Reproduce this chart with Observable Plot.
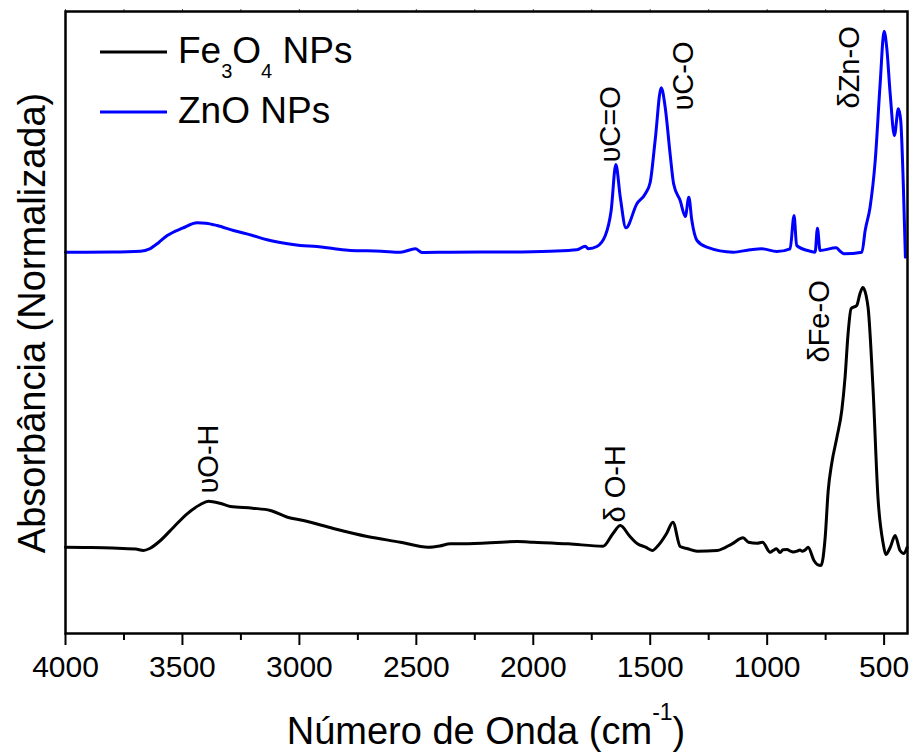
<!DOCTYPE html>
<html><head><meta charset="utf-8">
<script src="https://cdn.jsdelivr.net/npm/d3@7"></script>
<script src="https://cdn.jsdelivr.net/npm/@observablehq/plot@0.6"></script>
<style>
body{margin:0;background:#fff}
#chart{width:909px;height:752px}
</style>
</head><body><div id="chart"></div>
<script>
// Fe3O4 NPs spectrum: wavenumber (cm-1) and normalized absorbance (arbitrary offset units)
const feWavenumber = [4000,3900,3800,3700,3667,3640,3594,3538,3480,3423,3389,3340,3295,3200,3124,3051,2983,2855,2710,2568,2449,2400,2355,2300,2068,2000,1850,1701,1660,1628,1590,1556,1520,1491,1466,1430,1403,1372,1340,1299,1214,1150,1103,1080,1043,1020,987,975,960,945,932,915,900,890,872,860,850,835,825,800,786,770,752,739,724,702,681,667,654,641,617,603,591,577,568,547,526,504,493,474,453,432,415,402];
const feAbsorbance = [0.863,0.86,0.855,0.845,0.83,0.85,0.93,1.063,1.197,1.29,1.323,1.303,1.27,1.253,1.23,1.163,1.13,1.05,0.97,0.913,0.863,0.875,0.897,0.897,0.92,0.913,0.897,0.873,0.997,1.08,0.98,0.90,0.863,0.83,0.88,1.0,1.113,0.87,0.847,0.823,0.83,0.897,0.957,0.913,0.903,0.913,0.813,0.83,0.847,0.81,0.837,0.84,0.823,0.815,0.823,0.835,0.823,0.84,0.863,0.73,0.69,0.68,0.96,1.43,1.70,1.96,2.23,2.56,3.00,3.25,3.28,3.40,3.46,3.38,3.25,2.43,1.35,0.90,0.79,0.86,0.98,0.83,0.80,0.86];

// ZnO NPs spectrum
const znWavenumber = [4000,3800,3679,3640,3600,3565,3500,3437,3400,3352,3282,3200,3138,3050,2996,2925,2850,2782,2650,2568,2504,2476,2355,2100,1927,1813,1778,1764,1728,1692,1667,1647,1628,1604,1557,1521,1500,1479,1453,1436,1415,1400,1372,1350,1335,1322,1300,1258,1145,1073,1023,959,902,885,874,816,795,785,774,705,688,671,595,581,560,538,517,500,489,474,456,439,429,418,409];
const znAbsorbance = [3.813,3.815,3.823,3.847,3.913,3.98,4.053,4.107,4.103,4.08,4.03,3.98,3.937,3.897,3.88,3.87,3.847,3.83,3.823,3.813,3.847,3.81,3.813,3.815,3.823,3.837,3.873,3.847,3.87,3.98,4.23,4.69,4.363,4.057,4.297,4.397,4.513,4.93,5.457,5.263,4.797,4.497,4.33,4.17,4.363,4.13,3.93,3.863,3.813,3.837,3.847,3.82,3.847,4.18,3.88,3.823,3.813,4.053,3.83,3.857,3.823,3.797,3.813,4.03,4.263,4.73,5.497,6.023,5.863,5.397,4.98,5.247,5.13,4.50,3.763];

// Series
const seriesNames = ["Fe3O4 NPs", "ZnO NPs"];
const seriesColors = ["#000000", "#0000ff"];
// legend name parts: [text, isSubscript]
const seriesNameParts = [
  [["Fe",0],["3",1],["O",0],["4",1],[" NPs",0]],
  [["ZnO NPs",0]]
];

// Peak annotations
const peakText = ["\u03C5O-H", "\u03B4 O-H", "\u03B4Fe-O", "\u03C5C=O", "\u03C5C-O", "\u03B4Zn-O"];
const peakWavenumber = [3387, 1647, 776, 1671, 1355, 645];
const peakLevel = [1.40, 1.11, 2.71, 4.71, 5.23, 5.25];

// Axis ticks
const majorTicks = [4000,3500,3000,2500,2000,1500,1000,500];
const minorTicks = [3750,3250,2750,2250,1750,1250,750];
const allTicks = [4000,3750,3500,3250,3000,2750,2500,2250,2000,1750,1500,1250,1000,750,500];

const xTitle = "Número de Onda (cm";
const xTitleSup = "-1";
const yTitle = "Absorbância (Normalizada)";

const rows = [];
feWavenumber.forEach((w,i)=>rows.push({series: seriesNames[0], wn: w, abs: feAbsorbance[i]}));
znWavenumber.forEach((w,i)=>rows.push({series: seriesNames[1], wn: w, abs: znAbsorbance[i]}));
const peaks = peakText.map((t,i)=>({text:t, wn: peakWavenumber[i], abs: peakLevel[i]}));

const font = "'Liberation Sans', Arial, Helvetica, sans-serif";

const plot = Plot.plot({
  width: 909,
  height: 752,
  marginLeft: 65,
  marginRight: 2,
  marginTop: 11,
  marginBottom: 119,
  style: {fontFamily: font, background: "#fff", color: "#000", overflow: "visible"},
  x: {domain: [4000, 400]},
  y: {domain: [0, 6.22], axis: null},
  color: {domain: seriesNames, range: seriesColors},
  marks: [
    Plot.line(rows, {x: "wn", y: "abs", z: "series", stroke: "series", strokeWidth: 3, curve: "monotone-x", strokeLinejoin: "round"}),
    Plot.axisX(majorTicks, {anchor: "bottom", tickSize: 12, tickPadding: 10, fontSize: 30, strokeWidth: 2, label: null, tickFormat: d => String(d)}),
    Plot.axisX(minorTicks, {anchor: "bottom", tickSize: 7, strokeWidth: 2, label: null, tickFormat: () => ""}),
    Plot.axisX(allTicks, {anchor: "top", tickSize: 3, strokeWidth: 1, stroke: "#555", label: null, tickFormat: () => ""}),
    Plot.frame({stroke: "#000", strokeWidth: 2.5}),
    Plot.text(peaks, {x: "wn", y: "abs", text: "text", rotate: -90, textAnchor: "start", lineAnchor: "middle", fontSize: 29, fill: "#000"})
  ]
});

document.getElementById("chart").appendChild(plot);

const svg = d3.select(plot);
// X axis title with superscript
const xt = svg.append("text")
  .attr("x", 486).attr("y", 744)
  .attr("text-anchor", "middle")
  .attr("font-size", 38)
  .attr("fill", "#000");
xt.append("tspan").text(xTitle);
xt.append("tspan").attr("dy", -24).attr("font-size", 23).text(xTitleSup);
xt.append("tspan").attr("dy", 24).text(")");

// Y axis title
svg.append("text")
  .attr("transform", "translate(45,323) rotate(-90)")
  .attr("text-anchor", "middle")
  .attr("font-size", 38)
  .attr("fill", "#000")
  .text(yTitle);

// Legend
seriesNames.forEach((name, i) => {
  const y0 = 52 + i * 60;
  svg.append("line")
    .attr("x1", 100).attr("x2", 167)
    .attr("y1", y0).attr("y2", y0)
    .attr("stroke", seriesColors[i]).attr("stroke-width", 3);
  const t = svg.append("text")
    .attr("x", 178).attr("y", y0 + 11)
    .attr("text-anchor", "start")
    .attr("font-size", 37)
    .attr("fill", "#000");
  let prevSub = 0;
  seriesNameParts[i].forEach(([s, sub]) => {
    const ts = t.append("tspan").text(s);
    if (sub && !prevSub) ts.attr("dy", 15).attr("font-size", 20);
    else if (!sub && prevSub) ts.attr("dy", -15);
    else if (sub) ts.attr("font-size", 20);
    prevSub = sub;
  });
});
</script>
</body></html>
